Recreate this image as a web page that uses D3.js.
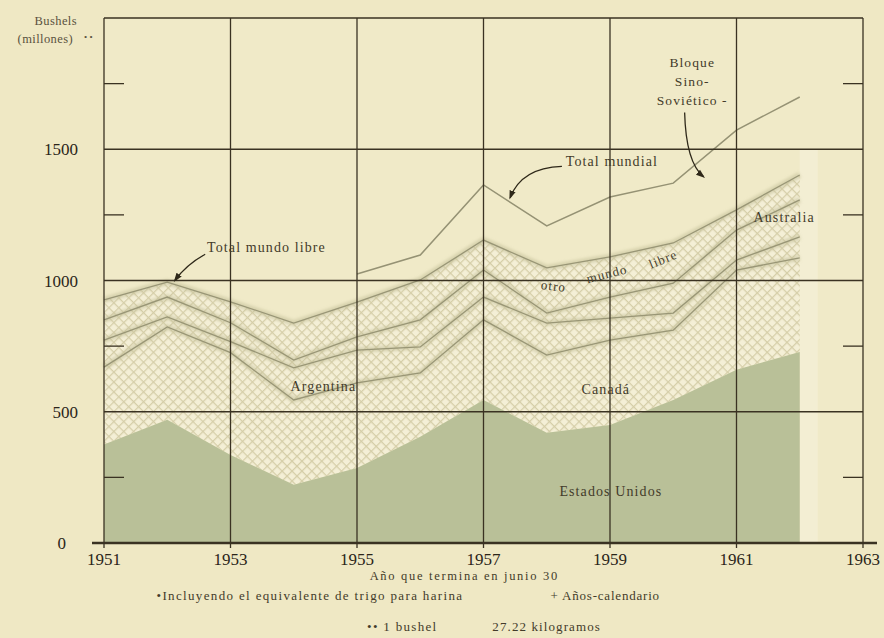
<!DOCTYPE html>
<html><head><meta charset="utf-8">
<script src="https://cdn.jsdelivr.net/npm/d3@7"></script>
<style>
body{margin:0;background:#efe8c4;}
svg{display:block;}
</style></head><body>
<svg width="884" height="638"></svg>
<script>
// exportaciones de trigo, millones de bushels, año que termina en junio 30
var years = [1951, 1952, 1953, 1954, 1955, 1956, 1957, 1958, 1959, 1960, 1961, 1962];
var estadosUnidos  = [375, 470, 335, 222, 286, 405, 545, 420, 450, 545, 660, 728];
var canada         = [295, 353, 390, 323, 324, 243, 305, 296, 323, 266, 380, 358];
var argentina      = [103, 38, 42, 122, 125, 99, 87, 122, 84, 65, 38, 80];
var australia      = [77, 76, 72, 30, 50, 103, 103, 38, 80, 114, 114, 141];
var otroMundoLibre = [76, 57, 80, 141, 133, 152, 114, 172, 153, 153, 77, 95];
var bloqueSinoSovietico = [null, null, null, null, 107, 95, 210, 160, 228, 228, 304, 297];

var xTicks = [1951, 1953, 1955, 1957, 1959, 1961, 1963];
var yTicks = [0, 500, 1000, 1500];
var yMinor = [250, 750, 1250, 1750];

var svg = d3.select("svg");
var ink = "#3a3222";
var serif = "'Liberation Serif','DejaVu Serif',serif";

var x = d3.scaleLinear().domain([1951, 1963]).range([104, 863]);
var y = d3.scaleLinear().domain([0, 2000]).range([543, 18]);

var keys = ["eu", "ca", "ar", "au", "ot"];
var table = years.map(function(yr, i) {
  return {year: yr, eu: estadosUnidos[i], ca: canada[i], ar: argentina[i],
          au: australia[i], ot: otroMundoLibre[i], sino: bloqueSinoSovietico[i]};
});
var series = d3.stack().keys(keys)(table);

var defs = svg.append("defs");
var pat = defs.append("pattern")
    .attr("id", "hatch")
    .attr("width", 7).attr("height", 7)
    .attr("patternUnits", "userSpaceOnUse")
    .attr("patternTransform", "rotate(45)");
pat.append("rect").attr("width", 7).attr("height", 7).attr("fill", "#f4efd6");
pat.append("path").attr("d", "M0,0.6H7M0.6,0V7")
    .attr("stroke", "#d5ce a8".replace(" ", "")).attr("stroke-width", 1.3);
defs.append("filter").attr("id", "soft")
  .append("feGaussianBlur").attr("stdDeviation", 1.6);
defs.append("marker")
    .attr("id", "arr").attr("viewBox", "0 -5 10 10")
    .attr("refX", 8).attr("refY", 0)
    .attr("markerWidth", 7).attr("markerHeight", 7)
    .attr("orient", "auto")
  .append("path").attr("d", "M0,-3.5L10,0L0,3.5Z").attr("fill", "#2e2819");

// plot background
svg.append("rect")
    .attr("x", x(1951)).attr("y", y(2000))
    .attr("width", x(1963) - x(1951)).attr("height", y(0) - y(2000))
    .attr("fill", "#f0eac8");
svg.append("rect")
    .attr("x", x(1962)).attr("y", y(1500))
    .attr("width", 18).attr("height", y(0) - y(1500))
    .attr("fill", "#f4efd6").attr("opacity", 0.8);

// hatched free-world bands and green US band
var band = d3.area()
    .x(function(d) { return x(d.data.year); })
    .y0(function(d) { return y(d[0]); })
    .y1(function(d) { return y(d[1]); });

var allFree = d3.area()
    .x(function(d, i) { return x(years[i]); })
    .y0(function(d, i) { return y(series[0][i][1]); })
    .y1(function(d, i) { return y(series[4][i][1]); });

svg.append("path").datum(years).attr("d", allFree).attr("fill", "url(#hatch)");
svg.append("path").datum(series[0]).attr("d", band).attr("fill", "#b9c098");

// soft halo of band edges
var edge = d3.line()
    .x(function(d) { return x(d.data.year); })
    .y(function(d) { return y(d[1]); });

svg.append("g").selectAll("path")
  .data(series.slice(1))
  .enter().append("path")
    .attr("d", edge)
    .attr("fill", "none")
    .attr("stroke", "#c3bf98")
    .attr("stroke-width", 6)
    .attr("opacity", 0.55)
    .attr("filter", "url(#soft)");

svg.append("g").selectAll("path")
  .data(series.slice(1))
  .enter().append("path")
    .attr("d", edge)
    .attr("fill", "none")
    .attr("stroke", "#999676")
    .attr("stroke-width", 1.3);

// total mundial
var world = d3.line()
    .defined(function(d) { return d.sino != null; })
    .x(function(d) { return x(d.year); })
    .y(function(d) { return y(d.eu + d.ca + d.ar + d.au + d.ot + d.sino); });
svg.append("path").datum(table).attr("d", world)
    .attr("fill", "none").attr("stroke", "#959274").attr("stroke-width", 1.5);

// grid
var grid = svg.append("g").attr("stroke", ink).attr("stroke-width", 1.3);
grid.selectAll(".vg").data(xTicks).enter().append("line")
    .attr("x1", function(d) { return x(d); }).attr("x2", function(d) { return x(d); })
    .attr("y1", y(2000)).attr("y2", y(0));
grid.selectAll(".hg").data(yTicks.concat([2000])).enter().append("line")
    .attr("x1", x(1951)).attr("x2", x(1963))
    .attr("y1", function(d) { return y(d); }).attr("y2", function(d) { return y(d); });
grid.selectAll(".ml").data(yMinor).enter().append("line")
    .attr("x1", x(1951)).attr("x2", x(1951) + 20)
    .attr("y1", function(d) { return y(d); }).attr("y2", function(d) { return y(d); });
grid.selectAll(".mr").data(yMinor).enter().append("line")
    .attr("x1", x(1963) - 20).attr("x2", x(1963))
    .attr("y1", function(d) { return y(d); }).attr("y2", function(d) { return y(d); });

// x axis baseline
svg.append("line")
    .attr("x1", x(1951) - 12).attr("x2", x(1963) + 14)
    .attr("y1", y(0)).attr("y2", y(0))
    .attr("stroke", ink).attr("stroke-width", 2.6);
svg.append("g").selectAll("line").data(xTicks).enter().append("line")
    .attr("x1", function(d) { return x(d); }).attr("x2", function(d) { return x(d); })
    .attr("y1", y(0)).attr("y2", y(0) + 5)
    .attr("stroke", ink).attr("stroke-width", 1.3);

// tick labels
svg.append("g").selectAll("text").data(xTicks).enter().append("text")
    .attr("x", function(d) { return x(d); })
    .attr("y", y(0) + 22)
    .attr("text-anchor", "middle")
    .attr("font-family", serif).attr("font-size", 17)
    .attr("fill", "#2b2519")
    .text(function(d) { return d; });
svg.append("g").selectAll("text").data(yTicks).enter().append("text")
    .attr("x", function(d) { return d === 0 ? 66 : 78; })
    .attr("y", function(d) { return y(d) + 6; })
    .attr("text-anchor", "end")
    .attr("font-family", serif).attr("font-size", 17)
    .attr("fill", "#2b2519")
    .text(function(d) { return d; });

// labels
function label(txt, px, py, size, opts) {
  opts = opts || {};
  var t = svg.append("text")
      .attr("x", px).attr("y", py)
      .attr("font-family", serif)
      .attr("font-size", size)
      .attr("letter-spacing", opts.ls == null ? 1.1 : opts.ls)
      .attr("fill", opts.fill || "#433b2a")
      .attr("text-anchor", opts.anchor || "start")
      .text(txt);
  if (opts.rot) t.attr("transform", "rotate(" + opts.rot + "," + px + "," + py + ")");
  return t;
}

label("Bushels", 77, 25, 12.5, {anchor: "end", ls: 0.4, fill: "#5a523e"});
label("(millones)", 73, 43, 12.5, {anchor: "end", ls: 0.4, fill: "#5a523e"});
label("• •", 84, 40, 9, {ls: 0, fill: "#5a523e"});

label("Total mundo libre", x(1952.63), y(1110), 14);
label("Total mundial", x(1958.3), y(1437), 14);
label("Bloque", x(1960.3), y(1812), 13.5, {anchor: "middle"});
label("Sino-", x(1960.3), y(1740), 13.5, {anchor: "middle"});
label("Soviético -", x(1960.3), y(1670), 13.5, {anchor: "middle"});
label("Australia", x(1961.27), y(1223), 14);
label("otro", x(1957.9), y(968), 13, {rot: 7});
label("mundo", x(1958.65), y(990), 13, {rot: -14});
label("libre", x(1959.65), y(1045), 13, {rot: -22});
label("Argentina", x(1953.95), y(580), 14);
label("Canadá", x(1958.55), y(566), 14);
label("Estados Unidos", x(1958.2), y(178), 14);

label("Año que termina en junio 30", x(1955.2), y(0) + 37, 12.5, {ls: 1.7});
label("•Incluyendo el equivalente de trigo para harina", x(1951.83), y(0) + 57, 13, {ls: 1.35});
label("+ Años-calendario", x(1958.06), y(0) + 57, 13, {ls: 0.8});
label("•• 1 bushel", x(1955.16), y(0) + 88, 13, {ls: 1.3});
label("27.22 kilogramos", x(1957.14), y(0) + 88, 13, {ls: 1.1});

// arrows
var arrows = [
  [[1952.6, 1100], [1952.3, 1060], [1952.12, 1000]],
  [[1958.24, 1435], [1957.6, 1430], [1957.42, 1315]],
  [[1960.18, 1640], [1960.2, 1450], [1960.48, 1395]]
];
svg.append("g").selectAll("path").data(arrows).enter().append("path")
    .attr("d", function(d) {
      return "M" + x(d[0][0]) + "," + y(d[0][1]) +
             "Q" + x(d[1][0]) + "," + y(d[1][1]) +
             " " + x(d[2][0]) + "," + y(d[2][1]);
    })
    .attr("fill", "none").attr("stroke", "#2e2819").attr("stroke-width", 1.3)
    .attr("marker-end", "url(#arr)");
</script>
</body></html>
